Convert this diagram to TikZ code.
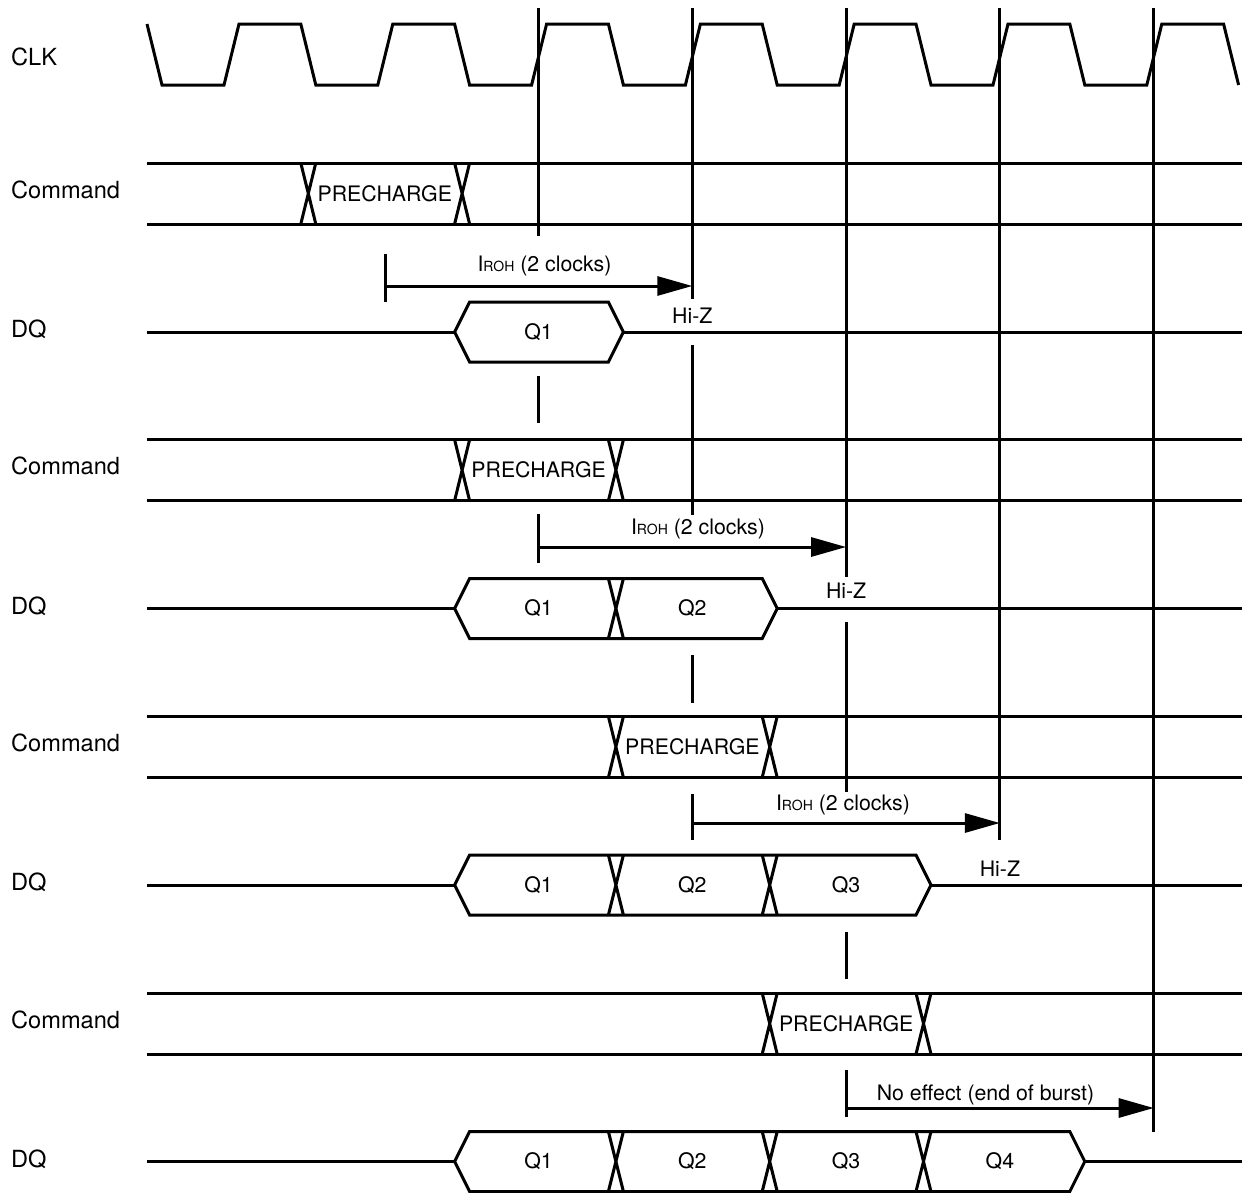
\documentclass[tikz,border=0pt]{standalone}
\usepackage{fontspec}
\setmainfont{TeX Gyre Heros}
\usetikzlibrary{arrows.meta}
\begin{document}
\begin{tikzpicture}[x=1pt,y=-1pt,
  wave/.style={line width=3pt, line join=miter},
  lbl/.style={anchor=base west, font=\fontsize{23.6}{27}\selectfont, inner sep=0pt},
  txt/.style={font=\fontsize{21.3}{25}\selectfont, inner sep=0pt},
  timing/.style={line width=3pt, -{Triangle[length=35pt,width=19pt]}}]
\useasboundingbox (0,0) rectangle (1242,1192);

% ---- labels ----
\node[lbl] (lclk) at (11,65) {CLK};
\foreach \r in {0,...,3} {
  \pgfmathsetmacro\cb{198+276.7*\r}
  \pgfmathsetmacro\db{337.5+276.5*\r}
  \node[lbl] (lcmd\r) at (11,\cb) {Command};
  \node[lbl] (ldq\r) at (11,\db) {DQ};
}

% ---- clock ----
\draw[wave] (147,24) \foreach \k in {0,...,6} {
   -- ({147+153.8*\k+15},85) -- ({147+153.8*\k+77},85)
   -- ({147+153.8*\k+92},24) -- ({147+153.8*\k+153.8},24) } -- (1238.6,85);

% ---- vertical reference lines ----
\draw[wave] (538.5,8) -- (538.5,236) (538.5,376) -- (538.5,423);
\draw[wave] (692.3,8) -- (692.3,299) (692.3,345) -- (692.3,515) (692.3,655) -- (692.3,703);
\draw[wave] (846.1,8) -- (846.1,577) (846.1,622) -- (846.1,792) (846.1,932) -- (846.1,979);
\draw[wave] (999.9,8) -- (999.9,840);
\draw[wave] (1153.7,8) -- (1153.7,1132);

% ---- command rows ----
\foreach \r in {0,...,3} {
  \pgfmathsetmacro\T{163+276.7*\r}
  \pgfmathsetmacro\B{\T+61}
  \pgfmathsetmacro\Fa{147+153.8*(\r+1)}
  \pgfmathsetmacro\Fb{\Fa+153.8}
  \draw[wave] (147,\T) -- (1242,\T) (147,\B) -- (1242,\B);
  \draw[wave] (\Fa,\T) -- ({\Fa+15},\B) ({\Fa+15},\T) -- (\Fa,\B);
  \draw[wave] (\Fb,\T) -- ({\Fb+15},\B) ({\Fb+15},\T) -- (\Fb,\B);
  \node[txt] (pre\r) at ({\Fa+84},{\T+30.5}) {PRECHARGE};
}

% ---- DQ rows ----
\foreach \r in {0,...,3} {
  \pgfmathsetmacro\C{332+276.5*\r}
  \pgfmathsetmacro\E{147+153.8*(3+\r)}
  \draw[wave] (454.6,\C) -- (469.6,{\C-30}) -- (\E,{\C-30}) -- ({\E+15},\C)
     -- (\E,{\C+30}) -- (469.6,{\C+30}) -- cycle;
  \draw[wave] (147,\C) -- (454.6,\C) ({\E+15},\C) -- (1242,\C);
  \ifnum\r>0
    \foreach \i in {1,...,\r} {
      \pgfmathsetmacro\F{454.6+153.8*\i}
      \draw[wave] (\F,{\C-30}) -- ({\F+15},{\C+30}) ({\F+15},{\C-30}) -- (\F,{\C+30});
    }
  \fi
  \foreach \i in {0,...,\r} {
    \pgfmathtruncatemacro\qn{\i+1}
    \node[txt] (q\r\i) at ({538.5+153.8*\i},\C) {Q\qn};
  }
}
\node[txt] (hz0) at (692.3,316) {Hi-Z};
\node[txt] (hz1) at (846.1,591) {Hi-Z};
\node[txt] (hz2) at (999.9,869) {Hi-Z};

% ---- timing arrows ----
\coordinate (s0) at (385.3,286);  \coordinate (e0) at (692.3,286);
\coordinate (s1) at (538.5,547);  \coordinate (e1) at (846.1,547);
\coordinate (s2) at (692.3,823);  \coordinate (e2) at (999.9,823);
\coordinate (s3) at (846.1,1108); \coordinate (e3) at (1153.7,1108);
\draw[wave] (385.3,254) -- (385.3,302);
\draw[wave] (538.5,514) -- (538.5,563);
\draw[wave] (692.3,794) -- (692.3,840);
\draw[wave] (846.1,1070) -- (846.1,1117);
\foreach \n in {0,...,3} { \draw[timing] (s\n) -- (e\n); }

\node[txt,anchor=base] (t0) at (544.5,271) {I{\fontsize{14}{15}\selectfont ROH} (2 clocks)};
\node[txt,anchor=base] (t1) at (698,534) {I{\fontsize{14}{15}\selectfont ROH} (2 clocks)};
\node[txt,anchor=base] (t2) at (843,810) {I{\fontsize{14}{15}\selectfont ROH} (2 clocks)};
\node[txt,anchor=base] (t3) at (985.5,1100) {No effect (end of burst)};
\end{tikzpicture}
\end{document}
